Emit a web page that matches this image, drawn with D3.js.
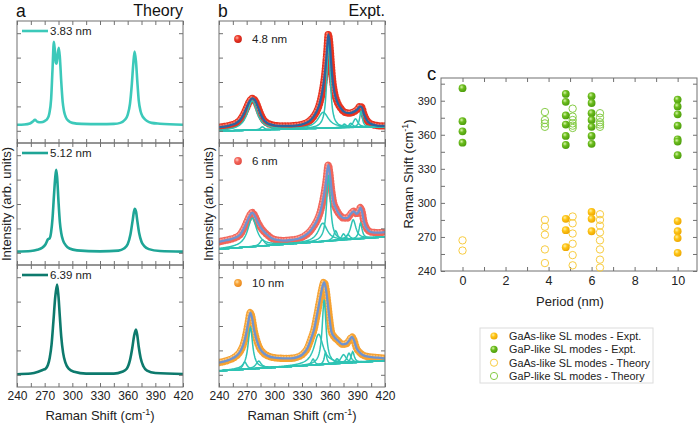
<!DOCTYPE html>
<html><head><meta charset="utf-8">
<script src="https://cdn.jsdelivr.net/npm/d3@7"></script>
<style>body{margin:0;background:#fff}svg{font-family:"Liberation Sans",Arial,sans-serif}</style>
</head><body><svg id="chart" width="700" height="425"></svg>
<script>
// ---------------- DATA ----------------
const ramanTicks = d3.range(240, 421, 15);          // tick positions, labels on multiples of 30
const theoryLabels = ["3.83 nm", "5.12 nm", "6.39 nm"];
const theoryColors = ["#3cc9ba", "#1ea596", "#0d7a6d"];
// theory spectra [Raman shift, intensity (fraction of sub-panel)]
const theory383 = [[240,0.15],[248,0.152],[254,0.16],[257,0.175],[259.5,0.19],[262,0.175],[266,0.17],[270,0.18],[273,0.20],[275,0.24],[277,0.36],[278.5,0.60],[280,0.83],[281,0.76],[282,0.66],[283,0.65],[284,0.72],[285.3,0.78],[286.5,0.70],[288,0.50],[289.5,0.34],[291,0.26],[293,0.21],[296,0.18],[300,0.165],[310,0.157],[330,0.155],[345,0.157],[352,0.165],[357,0.19],[360,0.23],[362.5,0.32],[364.5,0.48],[366,0.64],[367.5,0.75],[369,0.67],[370.5,0.50],[372,0.35],[374,0.26],[376,0.22],[378,0.20],[381,0.18],[386,0.165],[395,0.158],[420,0.15]];
const theory512 = [[240,0.11],[255,0.115],[262,0.125],[267,0.14],[271,0.17],[273.5,0.21],[275.5,0.22],[277,0.27],[278.5,0.38],[280,0.56],[281.5,0.72],[282.5,0.78],[283.5,0.72],[285,0.52],[286.5,0.35],[288,0.26],[290,0.20],[293,0.16],[297,0.135],[305,0.12],[330,0.112],[350,0.118],[356,0.135],[360,0.17],[363,0.25],[365.5,0.37],[367.5,0.46],[369,0.44],[370.5,0.36],[372.5,0.26],[375,0.19],[378,0.155],[383,0.13],[395,0.115],[420,0.11]];
const theory639 = [[240,0.105],[255,0.11],[263,0.125],[268,0.14],[271,0.15],[273.5,0.18],[275.5,0.24],[277.5,0.35],[279.5,0.54],[281.5,0.74],[283.5,0.84],[285,0.74],[286.5,0.57],[288,0.41],[290,0.28],[292.5,0.20],[296,0.15],[302,0.125],[315,0.11],[345,0.11],[354,0.125],[359,0.15],[362.5,0.22],[365,0.32],[367,0.42],[369,0.47],[370.5,0.42],[372,0.33],[374,0.24],[377,0.17],[381,0.135],[390,0.115],[420,0.107]];

const exptLabels = ["4.8 nm", "6 nm", "10 nm"];
// measured spectra [Raman shift, intensity]
const expt48 = [[240,0.13],[246,0.135],[252,0.145],[258,0.16],[263,0.19],[267,0.24],[270,0.29],[273,0.34],[276,0.365],[279,0.35],[282,0.30],[285,0.24],[288,0.195],[292,0.165],[297,0.15],[305,0.14],[315,0.14],[325,0.145],[333,0.16],[338,0.18],[342,0.21],[346,0.26],[349,0.32],[352,0.42],[355,0.58],[357,0.75],[358.5,0.89],[360,0.82],[361.5,0.67],[363,0.53],[365,0.42],[368,0.34],[372,0.285],[377,0.25],[382,0.245],[386,0.255],[390,0.275],[393,0.30],[395,0.29],[397,0.24],[400,0.19],[404,0.16],[410,0.145],[415,0.14],[420,0.14]];
const expt6 = [[240,0.19],[246,0.20],[252,0.21],[258,0.225],[263,0.25],[267,0.30],[270,0.35],[273,0.40],[276,0.43],[279,0.40],[282,0.35],[285,0.31],[288,0.28],[292,0.25],[297,0.22],[303,0.205],[310,0.20],[318,0.205],[326,0.215],[333,0.24],[338,0.27],[342,0.31],[346,0.36],[350,0.44],[353,0.54],[356,0.68],[358.5,0.82],[360,0.76],[362,0.62],[364,0.52],[367,0.46],[371,0.41],[375,0.385],[379,0.385],[383,0.42],[386,0.44],[389,0.42],[391,0.43],[393.5,0.47],[395,0.44],[397,0.36],[400,0.30],[405,0.27],[412,0.265],[420,0.27]];
const expt10 = [[240,0.20],[246,0.21],[252,0.225],[258,0.25],[262,0.28],[266,0.34],[269,0.42],[271.5,0.52],[274,0.61],[276,0.56],[278,0.47],[281,0.38],[284,0.32],[288,0.28],[293,0.255],[300,0.24],[310,0.235],[318,0.235],[325,0.245],[331,0.27],[336,0.32],[340,0.40],[343,0.47],[346,0.58],[349,0.70],[351.5,0.80],[354,0.86],[356,0.80],[358,0.68],[360,0.55],[362,0.45],[365,0.41],[369,0.38],[374,0.35],[378,0.355],[381,0.38],[384,0.41],[386,0.39],[389,0.32],[393,0.28],[398,0.255],[405,0.245],[412,0.24],[420,0.235]];
// fitted Lorentzian components [centre, amplitude, FWHM] and linear baselines [at 240, at 420]
const fit48 = [[276,0.24,13],[287,0.025,5],[353,0.13,14],[358.8,0.72,4.5],[376,0.03,5],[383,0.035,5],[388,0.07,6],[394,0.13,3.5]];
const fit6  = [[276,0.235,12],[287,0.05,6],[352.5,0.15,12],[358.8,0.54,5],[366.5,0.08,5],[375,0.05,5],[380,0.04,5],[385.5,0.16,7],[393.5,0.13,4]];
const fit10 = [[268,0.06,5],[274,0.34,6],[283,0.06,7],[342,0.05,4],[348,0.25,12],[354,0.53,5],[355.5,0.10,3],[368,0.04,5],[375,0.07,7],[381,0.08,5],[385,0.09,4]];
const base48 = [0.098, 0.135];
const base6  = [0.13, 0.23];
const base10 = [0.132, 0.216];

// panel c: [period (nm), Raman shift]
const gaasExpt = [[4.8,286],[4.8,276],[4.8,261],[6,292],[6,286],[6,275],[10,284],[10,275],[10,269],[10,256]];
const gapExpt = [[0,401],[0,372],[0,363],[0,353],[4.8,396],[4.8,389],[4.8,377],[4.8,369],[4.8,359],[4.8,351],[6,394],[6,388],[6,379],[6,373],[6,367],[6,359],[6,352],[10,391],[10,385],[10,378],[10,368],[10,356],[10,354],[10,342]];
const gaasTheory = [[0,267],[0,258],[3.83,285],[3.83,279],[3.83,272],[3.83,259],[3.83,247],[5.12,288],[5.12,282],[5.12,273],[5.12,264],[5.12,254],[5.12,245],[6.39,290],[6.39,285],[6.39,280],[6.39,274],[6.39,267],[6.39,259],[6.39,250],[6.39,243]];
const gapTheory = [[3.83,380],[3.83,373],[3.83,370],[3.83,367],[5.12,383],[5.12,376],[5.12,373],[5.12,370],[5.12,368],[5.12,366],[6.39,379],[6.39,375],[6.39,371],[6.39,369],[6.39,367]];
const periodTicks = d3.range(0, 11, 1);
const shiftTicks = d3.range(240, 411, 15);
const legendC = ["GaAs-like SL modes - Expt.", "GaP-like SL modes - Expt.", "GaAs-like SL modes - Theory", "GaP-like SL modes - Theory"];

// ---------------- DRAW ----------------
const svg = d3.select("#chart");
const defs = svg.append("defs");
function grad(id, light, mid, dark) {
  const g = defs.append("radialGradient").attr("id", id).attr("cx", "38%").attr("cy", "35%").attr("r", "70%");
  g.append("stop").attr("offset", "0%").attr("stop-color", light);
  g.append("stop").attr("offset", "40%").attr("stop-color", mid);
  g.append("stop").attr("offset", "100%").attr("stop-color", dark);
}
grad("gRed", "#ffb0a0", "#ec3a2a", "#c81e12");
grad("gSalmon", "#ffd0c8", "#f4665c", "#e04a40");
grad("gOrange", "#ffe0a8", "#f8a53a", "#e8861a");
grad("gGreen", "#d8f5a8", "#6cbd1e", "#4a9a0a");
grad("gYellow", "#fff0a0", "#ffc516", "#eaa400");

const subTops = [21, 143, 265], subH = 122;
const frameCol = "#707070";

function styleAxis(g) {
  g.select(".domain").remove();
  g.selectAll(".tick line").attr("stroke", frameCol);
  g.selectAll(".tick text").attr("fill", "#222").attr("font-family", "Liberation Sans, Arial, sans-serif");
}

function spectraPanel(x0, x1, drawFn) {
  const x = d3.scaleLinear().domain([240, 420]).range([x0, x1]);
  subTops.forEach((top, i) => {
    const y = d3.scaleLinear().domain([0, 1]).range([top + subH, top]);
    const g = svg.append("g");
    const cid = "clip" + x0 + "_" + i;
    defs.append("clipPath").attr("id", cid).append("rect").attr("x", x0).attr("y", top).attr("width", x1 - x0).attr("height", subH);
    const inner = g.append("g").attr("clip-path", `url(#${cid})`);
    drawFn(inner, x, y, i, top);
    const last = i === 2;
    const ab = g.append("g").attr("transform", `translate(0,${top + subH})`)
      .call(d3.axisBottom(x).tickValues(ramanTicks).tickSize(-4).tickPadding(4.5)
        .tickFormat(d => (last && d % 30 === 0) ? d : ""));
    styleAxis(ab); ab.selectAll("text").attr("font-size", 12);
    const at = g.append("g").attr("transform", `translate(0,${top})`)
      .call(d3.axisTop(x).tickValues(ramanTicks).tickSize(-4).tickFormat(""));
    styleAxis(at);
    const yt = [0.1, 0.3, 0.5, 0.7, 0.9];
    const al = g.append("g").attr("transform", `translate(${x0},0)`).call(d3.axisLeft(y).tickValues(yt).tickSize(-4).tickFormat(""));
    styleAxis(al);
    const ar = g.append("g").attr("transform", `translate(${x1},0)`).call(d3.axisRight(y).tickValues(yt).tickSize(-4).tickFormat(""));
    styleAxis(ar);
    g.append("rect").attr("x", x0).attr("y", top).attr("width", x1 - x0).attr("height", subH)
      .attr("fill", "none").attr("stroke", frameCol).attr("stroke-width", 1);
  });
  const t = svg.append("text").attr("x", (x0 + x1) / 2).attr("y", 420).attr("text-anchor", "middle").attr("font-size", 13).attr("fill", "#222");
  t.append("tspan").text("Raman Shift (cm");
  t.append("tspan").attr("dy", -5).attr("font-size", 9).text("-1");
  t.append("tspan").attr("dy", 5).text(")");
  svg.append("text").attr("transform", `translate(${x0 - 6},204) rotate(-90)`).attr("text-anchor", "middle")
    .attr("font-size", 13).attr("fill", "#222").text("Intensity (arb. units)");
  return x;
}

// Panel a
const theorySets = [theory383, theory512, theory639];
spectraPanel(17, 183, (g, x, y, i, top) => {
  const line = d3.line().x(d => x(d[0])).y(d => y(d[1])).curve(d3.curveMonotoneX);
  g.append("path").datum(theorySets[i]).attr("d", line).attr("fill", "none")
    .attr("stroke", theoryColors[i]).attr("stroke-width", 2.6).attr("stroke-linejoin", "round");
  g.append("line").attr("x1", 22).attr("x2", 48).attr("y1", top + 10).attr("y2", top + 10)
    .attr("stroke", theoryColors[i]).attr("stroke-width", 2.6);
  g.append("text").attr("x", 50).attr("y", top + 14).attr("font-size", 11.5).attr("fill", "#222").text(theoryLabels[i]);
});
svg.append("text").attr("x", 16).attr("y", 16.5).attr("font-size", 17.5).attr("fill", "#111").text("a");
svg.append("text").attr("x", 183).attr("y", 15.5).attr("text-anchor", "end").attr("font-size", 16).attr("fill", "#111").text("Theory");

// Panel b
const exptSets = [expt48, expt6, expt10];
const fitSets = [fit48, fit6, fit10];
const baseSets = [base48, base6, base10];
const dotCols = ["#e8321f", "#f2655a", "#f6a232"];
const dotHi = ["#ff9a88", "#ffb4aa", "#ffd49a"];
const dotGrad = ["gRed", "gSalmon", "gOrange"];
const fitCols = ["#2a64a0", "#6e93d0", "#6e93d0"];
const compCol = "#2ec3b4";
const xs = d3.range(240, 420.01, 0.5);
spectraPanel(219, 385, (g, x, y, i, top) => {
  const line = d3.line().x(d => x(d[0])).y(d => y(d[1])).curve(d3.curveMonotoneX);
  g.append("path").datum(exptSets[i]).attr("d", line).attr("fill", "none")
    .attr("stroke", dotCols[i]).attr("stroke-width", 7.4).attr("stroke-linecap", "round")
    .attr("stroke-dasharray", "0.01 2.8");
  g.append("path").datum(exptSets[i]).attr("d", line).attr("fill", "none").attr("transform", "translate(-1,-1.2)")
    .attr("stroke", dotHi[i]).attr("stroke-width", 2.4).attr("stroke-linecap", "round").attr("opacity", 0.7)
    .attr("stroke-dasharray", "0.01 2.8");
  const b = baseSets[i];
  const baseAt = v => b[0] + (b[1] - b[0]) * (v - 240) / 180;
  fitSets[i].forEach(([c, a, w]) => {
    const hw = w / 2;
    const pts = xs.map(v => [v, baseAt(v) + a * hw * hw / ((v - c) * (v - c) + hw * hw)]);
    g.append("path").datum(pts).attr("d", d3.line().x(d => x(d[0])).y(d => y(d[1])))
      .attr("fill", "none").attr("stroke", compCol).attr("stroke-width", 1.5);
  });
  g.append("path").datum(exptSets[i]).attr("d", line).attr("fill", "none")
    .attr("stroke", fitCols[i]).attr("stroke-width", 2.3);
  g.append("circle").attr("cx", 238).attr("cy", top + 18).attr("r", 3.9).attr("fill", `url(#${dotGrad[i]})`);
  g.append("text").attr("x", 252).attr("y", top + 22).attr("font-size", 11.5).attr("fill", "#222").text(exptLabels[i]);
});
svg.append("text").attr("x", 218).attr("y", 16.5).attr("font-size", 17.5).attr("fill", "#111").text("b");
svg.append("text").attr("x", 385).attr("y", 15.5).attr("text-anchor", "end").attr("font-size", 16).attr("fill", "#111").text("Expt.");

// Panel c
const xc = d3.scaleLinear().domain([-1, 10.9]).range([441, 697]);
const yc = d3.scaleLinear().domain([240, 410]).range([271, 78]);
const gc = svg.append("g");
const cb = gc.append("g").attr("transform", "translate(0,271)")
  .call(d3.axisBottom(xc).tickValues(periodTicks).tickSize(-4).tickPadding(5).tickFormat(d => d % 2 === 0 ? d : ""));
styleAxis(cb); cb.selectAll("text").attr("font-size", 12.5);
styleAxis(gc.append("g").attr("transform", "translate(0,78)").call(d3.axisTop(xc).tickValues(periodTicks).tickSize(-4).tickFormat("")));
const cl = gc.append("g").attr("transform", "translate(441,0)")
  .call(d3.axisLeft(yc).tickValues(shiftTicks).tickSize(-4).tickPadding(5).tickFormat(d => d % 30 === 0 ? d : ""));
styleAxis(cl); cl.selectAll("text").attr("font-size", 11);
styleAxis(gc.append("g").attr("transform", "translate(697,0)").call(d3.axisRight(yc).tickValues(shiftTicks).tickSize(-4).tickFormat("")));
gc.append("rect").attr("x", 441).attr("y", 78).attr("width", 256).attr("height", 193).attr("fill", "none").attr("stroke", frameCol);

const openG = "#86cc46", openY = "#f8cc40";
gc.selectAll(".gat").data(gaasTheory).join("circle").attr("cx", d => xc(d[0])).attr("cy", d => yc(d[1])).attr("r", 3.7)
  .attr("fill", "none").attr("stroke", openY).attr("stroke-width", 1);
gc.selectAll(".gpt").data(gapTheory).join("circle").attr("cx", d => xc(d[0])).attr("cy", d => yc(d[1])).attr("r", 3.7)
  .attr("fill", "none").attr("stroke", openG).attr("stroke-width", 1);
gc.selectAll(".gae").data(gaasExpt).join("circle").attr("cx", d => xc(d[0])).attr("cy", d => yc(d[1])).attr("r", 3.9)
  .attr("fill", "url(#gYellow)");
gc.selectAll(".gpe").data(gapExpt).join("circle").attr("cx", d => xc(d[0])).attr("cy", d => yc(d[1])).attr("r", 3.9)
  .attr("fill", "url(#gGreen)");

svg.append("text").attr("x", 570).attr("y", 306).attr("text-anchor", "middle").attr("font-size", 13).attr("fill", "#222").text("Period (nm)");
const ty = svg.append("text").attr("transform", "translate(413,174) rotate(-90)").attr("text-anchor", "middle").attr("font-size", 13).attr("fill", "#222");
ty.append("tspan").text("Raman Shift (cm");
ty.append("tspan").attr("dy", -5).attr("font-size", 9).text("-1");
ty.append("tspan").attr("dy", 5).text(")");
svg.append("text").attr("x", 427).attr("y", 80).attr("font-size", 18.5).attr("fill", "#111").text("c");

// legend c
const lg = svg.append("g");
lg.append("rect").attr("x", 480).attr("y", 328).attr("width", 173).attr("height", 55).attr("fill", "#fff").attr("stroke", "#dcdcdc");
const lgY = [336, 349.3, 362.7, 376];
legendC.forEach((t, k) => {
  if (k === 0) lg.append("circle").attr("cx", 494).attr("cy", lgY[k]).attr("r", 3.6).attr("fill", "url(#gYellow)");
  if (k === 1) lg.append("circle").attr("cx", 494).attr("cy", lgY[k]).attr("r", 3.6).attr("fill", "url(#gGreen)");
  if (k === 2) lg.append("circle").attr("cx", 494).attr("cy", lgY[k]).attr("r", 3.6).attr("fill", "none").attr("stroke", openY);
  if (k === 3) lg.append("circle").attr("cx", 494).attr("cy", lgY[k]).attr("r", 3.6).attr("fill", "none").attr("stroke", openG);
  lg.append("text").attr("x", 509).attr("y", lgY[k] + 3.8).attr("font-size", 10.8).attr("fill", "#222").text(t);
});
</script>
</body></html>
